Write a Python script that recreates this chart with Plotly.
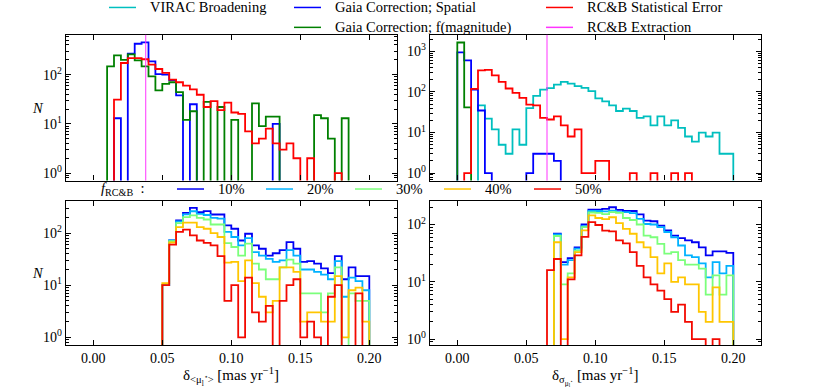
import plotly.graph_objects as go

W, H = 830, 387
FONT = "Liberation Serif"

# histogram bins: 0.005 wide, 0.000 -> 0.200
bin_width = 0.005
bin_edges = [round(bin_width * i, 3) for i in range(41)]

# ---- top-left: delta <mu_l*>
tl_spatial = [0, 0, 0, 13, 0, 266, 423, 450, 186, 102,
              100, 77, 38, 0, 25, 0, 0, 0, 0, 0,
              0, 0, 0, 0, 0, 0, 10, 0, 0, 0,
              0, 0, 0, 0, 0, 0, 0, 0, 0, 0]
tl_fmag = [0, 0, 147, 245, 200, 258, 195, 147, 92, 48,
           65, 70, 44, 12, 18, 0, 28, 0, 22, 0,
           12, 0, 0, 26, 9, 14, 14, 0, 0, 0,
           0, 0, 15, 13, 5, 0, 13, 0, 0, 0]
tl_stat = [0, 0, 0, 31, 172, 217, 217, 205, 159, 130,
           108, 79, 70, 60, 50, 39, 22, 29, 19, 27,
           17, 16, 7, 4, 5, 8, 4, 3, 4, 2,
           0, 2, 0, 0, 0, 1, 0, 0, 0, 0]

# ---- top-right: delta sigma_mu_l*
tr_virac = [0, 0, 0, 47, 22, 12, 5, 3, 12, 5,
            40, 80, 115, 125, 152, 177, 160, 140, 127, 105,
            70, 59, 47, 34, 39, 34, 23, 25, 15, 25,
            15, 20, 13, 8, 6, 10, 8, 10, 3, 3]
tr_spatial = [947, 600, 115, 35, 1, 0, 0, 0, 0, 0,
              1, 3, 3, 3, 2, 0, 0, 0, 0, 0,
              0, 0, 0, 0, 0, 0, 0, 0, 0, 0,
              0, 0, 0, 0, 0, 0, 0, 0, 0, 0]
tr_fmag = [1660, 42, 0, 0, 0, 0, 0, 0, 0, 0,
           0, 0, 0, 0, 0, 0, 0, 0, 0, 0,
           0, 0, 0, 0, 0, 0, 0, 0, 0, 0,
           0, 0, 0, 0, 0, 0, 0, 0, 0, 0]
tr_stat = [0, 1, 120, 343, 350, 258, 177, 122, 95, 72,
           49, 47, 23, 21, 25, 15, 8, 12, 1, 1,
           2, 2, 0, 0, 0, 1, 0, 0, 1, 0,
           0, 1, 0, 1, 0, 0, 0, 0, 0, 0]

# RC&B extraction values (vertical lines)
extraction = [0.038, 0.065]

# ---- bottom-left: by f_RC&B
bl_f10 = [0, 0, 0, 0, 0, 0, 0, 0, 0, 0,
          10, 72, 175, 245, 305, 251, 263, 227, 227, 140,
          121, 72, 97, 58, 50, 37, 41, 47, 67, 50,
          28, 29, 26, 21, 17, 36, 13, 22, 15, 15]
bl_f20 = [0, 0, 0, 0, 0, 0, 0, 0, 0, 0,
          10, 72, 168, 228, 262, 234, 222, 196, 190, 105,
          84, 58, 80, 43, 37, 32, 28, 30, 47, 37,
          20, 20, 18, 16, 13, 29, 6, 14, 12, 8]
bl_f30 = [0, 0, 0, 0, 0, 0, 0, 0, 0, 0,
          10, 70, 155, 202, 218, 196, 182, 146, 146, 64,
          54, 37, 63, 26, 20, 13, 13, 22, 31, 26,
          7, 7, 7, 3, 7, 22, 0, 7, 5, 5]
bl_f40 = [0, 0, 0, 0, 0, 0, 0, 0, 0, 0,
          11, 66, 130, 158, 158, 130, 121, 100, 84, 27,
          28, 12, 30, 11, 6, 3, 5, 22, 22, 18,
          2, 3, 3, 2, 2, 15, 1, 8, 9, 2]
bl_f50 = [0, 0, 0, 0, 0, 0, 0, 0, 0, 0,
          10, 60, 105, 116, 90, 72, 65, 58, 36, 5,
          10, 1, 14, 3, 2, 4, 0, 5, 10, 13,
          1, 2, 1, 0, 6, 10, 0, 0, 7, 0]

# ---- bottom-right
br_f10 = [0, 0, 0, 0, 0, 0, 0, 0, 0, 0,
          0, 0, 0, 0, 69, 22, 26, 40, 100, 182,
          182, 187, 200, 180, 172, 172, 150, 117, 114, 96,
          79, 64, 58, 53, 49, 40, 29, 34, 34, 32]
br_f20 = [0, 0, 0, 0, 0, 0, 0, 0, 0, 0,
          0, 0, 0, 0, 67, 20, 24, 38, 94, 172,
          172, 170, 175, 164, 164, 158, 125, 102, 100, 90,
          74, 60, 43, 29, 27, 21, 12, 22, 14, 19]
br_f30 = [0, 0, 0, 0, 0, 0, 0, 0, 0, 0,
          0, 0, 0, 0, 63, 9, 14, 35, 90, 162,
          160, 152, 164, 159, 130, 120, 100, 64, 60, 46,
          31, 33, 24, 20, 20, 17, 6, 13, 6, 13]
br_f40 = [0, 0, 0, 0, 0, 0, 0, 0, 0, 0,
          0, 0, 0, 0, 49, 1, 12, 33, 79, 144,
          130, 124, 134, 106, 84, 69, 49, 40, 27, 14,
          21, 10, 12, 9, 9, 3, 2, 8, 2, 2]
br_f50 = [0, 0, 0, 0, 0, 0, 0, 0, 0, 0,
          0, 0, 0, 16, 25, 0, 11, 29, 61, 110,
          98, 78, 76, 53, 47, 33, 19, 12, 9, 7,
          5, 3, 4, 2, 1, 1, 0, 1, 0, 0]

x_ticks = [0.0, 0.05, 0.10, 0.15, 0.20]
x_ticklabels = ["0.00", "0.05", "0.10", "0.15", "0.20"]
y_ticks = [1, 10, 100, 1000]
y_ticklabels = ["10<sup>0</sup>", "10<sup>1</sup>", "10<sup>2</sup>", "10<sup>3</sup>"]
y_minor = [m * d for d in (0.1, 1, 10, 100, 1000) for m in range(2, 10)]

top_names = ["VIRAC Broadening", "Gaia Correction; Spatial", "Gaia Correction; f(magnitude)",
             "RC&B Statistical Error", "RC&B Extraction"]
top_colors = ["#00bfbf", "#0000ff", "#008000", "#ff0000", "#ff33ff"]
frac_names = ["10%", "20%", "30%", "40%", "50%"]
frac_colors = ["#0000f4", "#00b2ff", "#7bff7b", "#ffc600", "#f30900"]

FLOOR = 1e-3  # zero counts drop below the log axis


def px(x):
    return x / W


def py(y):
    return 1 - y / H


fig = go.Figure()


def add_hist(counts, color, n, width=1.8):
    ys = [FLOOR] + [c if c > 0 else FLOOR for c in counts] + [FLOOR]
    xs = [bin_edges[0]] + bin_edges
    fig.add_trace(go.Scatter(
        x=xs, y=ys, mode="lines",
        line=dict(color=color, width=width, shape="hv"),
        xaxis="x" + ("" if n == 1 else str(n)), yaxis="y" + ("" if n == 1 else str(n)),
        showlegend=False, hoverinfo="skip"))


# top-left
add_hist(tl_spatial, top_colors[1], 1)
add_hist(tl_fmag, top_colors[2], 1)
add_hist(tl_stat, top_colors[3], 1)
# top-right
add_hist(tr_virac, top_colors[0], 2)
add_hist(tr_spatial, top_colors[1], 2)
add_hist(tr_fmag, top_colors[2], 2)
add_hist(tr_stat, top_colors[3], 2)
# bottom
for s, c in zip([bl_f10, bl_f20, bl_f30, bl_f40, bl_f50], frac_colors):
    add_hist(s, c, 3)
for s, c in zip([br_f10, br_f20, br_f30, br_f40, br_f50], frac_colors):
    add_hist(s, c, 4)

for n, v in zip([1, 2], extraction):
    fig.add_shape(type="line", x0=v, x1=v, y0=0, y1=1,
                  xref="x" + ("" if n == 1 else str(n)),
                  yref="y" + ("" if n == 1 else str(n)) + " domain",
                  line=dict(color=top_colors[4], width=1))

# panel geometry in pixels
LX = (65.7, 396.9)
RX = (429.7, 760.9)
TY = (35, 181.5)
BY = (202, 347)

tick_font = dict(family=FONT, size=14, color="black")


def xaxis(dom, labels, anchor):
    return dict(domain=[px(dom[0]), px(dom[1])], range=[-0.02, 0.22], anchor=anchor,
                tickvals=x_ticks, ticktext=x_ticklabels, showticklabels=labels,
                ticks="inside", ticklen=5, tickwidth=1, tickcolor="black",
                mirror="allticks", showline=True, linecolor="black", linewidth=1.2,
                showgrid=False, zeroline=False, tickfont=tick_font)


def yaxis(dom, rng, anchor):
    return dict(domain=[py(dom[1]), py(dom[0])], type="log", range=rng, anchor=anchor,
                tickvals=y_ticks, ticktext=y_ticklabels,
                ticks="inside", ticklen=5, tickwidth=1, tickcolor="black",
                minor=dict(tickvals=y_minor, ticks="inside", ticklen=3, tickwidth=0.8,
                           tickcolor="black", showgrid=False),
                mirror="allticks", showline=True, linecolor="black", linewidth=1.2,
                showgrid=False, zeroline=False, tickfont=tick_font)


fig.update_layout(
    width=W, height=H, margin=dict(l=0, r=0, t=0, b=0),
    paper_bgcolor="white", plot_bgcolor="white",
    font=dict(family=FONT, size=14, color="black"),
    xaxis=xaxis(LX, False, "y"), yaxis=yaxis(TY, [-0.152, 2.808], "x"),
    xaxis2=xaxis(RX, False, "y2"), yaxis2=yaxis(TY, [-0.184, 3.41], "x2"),
    xaxis3=xaxis(LX, True, "y3"), yaxis3=yaxis(BY, [-0.151, 2.616], "x3"),
    xaxis4=xaxis(RX, True, "y4"), yaxis4=yaxis(BY, [-0.106, 2.411], "x4"),
)

ann = []


def text(x, y, s, anchor="left", size=14.5):
    ann.append(dict(x=px(x), y=py(y), xref="paper", yref="paper", text=s, showarrow=False,
                    xanchor=anchor, yanchor="middle", font=dict(family=FONT, size=size, color="black")))


def handle(x0, x1, y, color):
    fig.add_shape(type="line", xref="paper", yref="paper", x0=px(x0), x1=px(x1),
                  y0=py(y), y1=py(y), line=dict(color=color, width=1.5))


# top legend (3 columns)
top_slots = [(109, 148, 7.5), (294, 333, 7.5), (294, 333, 27.5), (546, 585, 7.5), (546, 585, 27.5)]
for name, color, (hx, tx, y) in zip(top_names, top_colors, top_slots):
    handle(hx, hx + 27, y, color)
    text(tx, y, name)

# fraction legend
text(99, 190, "<i>f</i><sub>RC&B</sub>  :")
frac_x = [177, 266, 355, 444, 534]
for name, color, hx in zip(frac_names, frac_colors, frac_x):
    handle(hx, hx + 27, 190, color)
    text(hx + 39, 190, name)

# axis labels
text(38, (TY[0] + TY[1]) / 2, "<i>N</i>", anchor="center")
text(38, (BY[0] + BY[1]) / 2, "<i>N</i>", anchor="center")
text((LX[0] + LX[1]) / 2, 378,
     "δ<sub>&lt;μ<sub>l</sub><sup>⋆</sup>&gt;</sub> [mas yr<sup>−1</sup>]", anchor="center", size=15)
text((RX[0] + RX[1]) / 2, 378,
     "δ<sub>σ<sub>μ<sub>l</sub><sup>⋆</sup></sub></sub> [mas yr<sup>−1</sup>]", anchor="center", size=15)

fig.update_layout(annotations=ann)

fig.write_html("out.html", config={"displayModeBar": False},
               post_script="document.body.style.margin='0px';")
